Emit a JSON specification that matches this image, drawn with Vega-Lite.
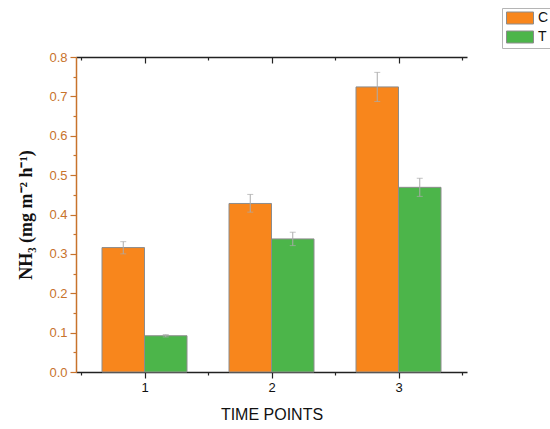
{
  "$schema": "https://vega.github.io/schema/vega-lite/v6.json",
  "width": 391,
  "height": 315,
  "autosize": "none",
  "padding": {"left": 76, "top": 57, "right": 83, "bottom": 57},
  "background": "white",
  "config": {
    "view": {"stroke": null},
    "axis": {"grid": false, "labelFont": "Liberation Sans", "titleFont": "Liberation Sans", "labelOverlap": false}
  },
  "data": {
    "values": [
      {"time": 1, "group": "C", "value": 0.316, "lo": 0.300, "hi": 0.331},
      {"time": 1, "group": "T", "value": 0.092, "lo": 0.089, "hi": 0.095},
      {"time": 2, "group": "C", "value": 0.428, "lo": 0.406, "hi": 0.451},
      {"time": 2, "group": "T", "value": 0.338, "lo": 0.321, "hi": 0.355},
      {"time": 3, "group": "C", "value": 0.724, "lo": 0.687, "hi": 0.761},
      {"time": 3, "group": "T", "value": 0.469, "lo": 0.446, "hi": 0.492}
    ]
  },
  "layer": [
    {
      "transform": [{"filter": "datum.group === 'C'"}],
      "mark": {"type": "bar", "width": 42.5, "xOffset": -21.25, "stroke": "#8c8c8c", "strokeWidth": 1},
      "encoding": {
        "x": {
          "field": "time", "type": "quantitative",
          "scale": {"domain": [0.5, 3.5], "nice": false, "zero": false},
          "axis": {
            "orient": "bottom",
            "values": [0.5, 1, 1.5, 2, 2.5, 3, 3.5],
            "labelExpr": "datum.value == 1 || datum.value == 2 || datum.value == 3 ? datum.value : ''",
            "labelOverlap": false,
            "domainColor": "#222", "domainWidth": 1.5,
            "tickColor": "#222", "tickWidth": 1.2,
            "tickSize": {"condition": {"test": "datum.value == 1 || datum.value == 2 || datum.value == 3", "value": 6}, "value": 3},
            "labelColor": "#111", "labelFontSize": 13, "labelPadding": 3,
            "title": "TIME POINTS", "titleFontSize": 16, "titleFontWeight": "normal",
            "titleColor": "#111", "titlePadding": 12
          }
        },
        "y": {
          "field": "value", "type": "quantitative",
          "scale": {"domain": [0, 0.8], "nice": false},
          "axis": {
            "orient": "left",
            "values": [0, 0.05, 0.1, 0.15, 0.2, 0.25, 0.3, 0.35, 0.4, 0.45, 0.5, 0.55, 0.6, 0.65, 0.7, 0.75, 0.8],
            "labelExpr": "round(datum.value * 20) % 2 == 0 ? format(datum.value, '.1f') : ''",
            "labelOverlap": false,
            "domainColor": "#c8732c", "domainWidth": 1.5,
            "tickColor": "#c8732c", "tickWidth": 1.2,
            "tickSize": {"condition": {"test": "round(datum.value * 20) % 2 == 0", "value": 6}, "value": 3},
            "labelColor": "#c8732c", "labelFontSize": 13, "labelPadding": 3,
            "title": "NH₃ (mg m⁻² h⁻¹)", "titleFont": "Liberation Serif", "titleFontSize": 18,
            "titleFontWeight": "bold", "titleColor": "#111", "titlePadding": 13
          }
        },
        "color": {
          "field": "group", "type": "nominal",
          "scale": {"domain": ["C", "T"], "range": ["#f8861c", "#4cb54a"]},
          "legend": {
            "orient": "none", "legendX": 426, "legendY": -49,
            "title": null,
            "symbolType": "M-2.25,-1H2.25V1H-2.25Z",
            "symbolSize": 144,
            "symbolOffset": 8,
            "symbolStrokeColor": "#8c8c8c", "symbolStrokeWidth": 1,
            "symbolOpacity": 1,
            "labelFont": "Liberation Sans", "labelFontSize": 14, "labelColor": "#111",
            "labelOffset": 11,
            "rowPadding": 3,
            "padding": 3,
            "strokeColor": "#b5b5b5", "fillColor": "white"
          }
        }
      }
    },
    {
      "transform": [{"filter": "datum.group === 'T'"}],
      "mark": {"type": "bar", "width": 42.5, "xOffset": 21.25, "stroke": "#8c8c8c", "strokeWidth": 1},
      "encoding": {
        "x": {
          "field": "time", "type": "quantitative",
          "axis": {
            "orient": "top",
            "values": [0.5, 1, 1.5, 2, 2.5, 3, 3.5],
            "labels": false, "title": null,
            "domainColor": "#222", "domainWidth": 1.5,
            "tickColor": "#222", "tickWidth": 1.2,
            "tickSize": {"condition": {"test": "datum.value == 1 || datum.value == 2 || datum.value == 3", "value": -6}, "value": -3}
          }
        },
        "y": {"field": "value", "type": "quantitative", "axis": null},
        "color": {"field": "group", "type": "nominal"}
      }
    },
    {
      "transform": [{"filter": "datum.group === 'C'"}],
      "mark": {"type": "rule", "xOffset": -21.25, "color": "#aaaaaa", "strokeWidth": 1},
      "encoding": {
        "x": {"field": "time", "type": "quantitative", "axis": null},
        "y": {"field": "lo", "type": "quantitative", "axis": null},
        "y2": {"field": "hi"}
      }
    },
    {
      "transform": [{"filter": "datum.group === 'T'"}],
      "mark": {"type": "rule", "xOffset": 21.25, "color": "#aaaaaa", "strokeWidth": 1},
      "encoding": {
        "x": {"field": "time", "type": "quantitative", "axis": null},
        "y": {"field": "lo", "type": "quantitative", "axis": null},
        "y2": {"field": "hi"}
      }
    },
    {
      "transform": [{"filter": "datum.group === 'C'"}],
      "mark": {"type": "tick", "orient": "horizontal", "xOffset": -21.25, "size": 6, "thickness": 1, "color": "#aaaaaa"},
      "encoding": {
        "x": {"field": "time", "type": "quantitative", "axis": null},
        "y": {"field": "hi", "type": "quantitative", "axis": null}
      }
    },
    {
      "transform": [{"filter": "datum.group === 'C'"}],
      "mark": {"type": "tick", "orient": "horizontal", "xOffset": -21.25, "size": 6, "thickness": 1, "color": "#aaaaaa"},
      "encoding": {
        "x": {"field": "time", "type": "quantitative", "axis": null},
        "y": {"field": "lo", "type": "quantitative", "axis": null}
      }
    },
    {
      "transform": [{"filter": "datum.group === 'T'"}],
      "mark": {"type": "tick", "orient": "horizontal", "xOffset": 21.25, "size": 6, "thickness": 1, "color": "#aaaaaa"},
      "encoding": {
        "x": {"field": "time", "type": "quantitative", "axis": null},
        "y": {"field": "hi", "type": "quantitative", "axis": null}
      }
    },
    {
      "transform": [{"filter": "datum.group === 'T'"}],
      "mark": {"type": "tick", "orient": "horizontal", "xOffset": 21.25, "size": 6, "thickness": 1, "color": "#aaaaaa"},
      "encoding": {
        "x": {"field": "time", "type": "quantitative", "axis": null},
        "y": {"field": "lo", "type": "quantitative", "axis": null}
      }
    }
  ],
  "resolve": {"axis": {"x": "independent", "y": "independent"}}
}
